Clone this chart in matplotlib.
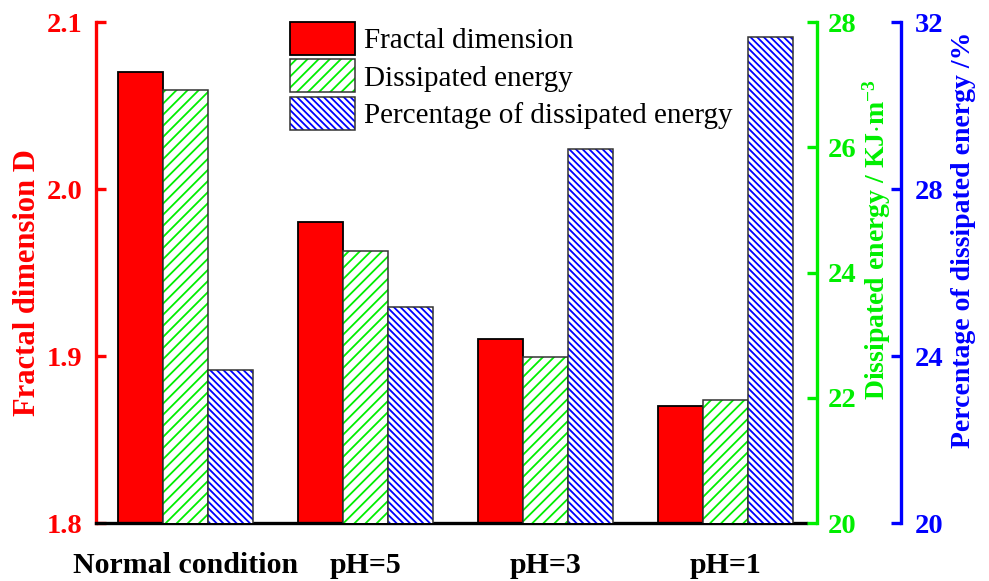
import matplotlib
matplotlib.use("Agg")
import matplotlib.pyplot as plt
import numpy as np
from matplotlib.patches import Patch
from matplotlib.legend_handler import HandlerTuple

conditions = ["Normal condition", "pH=5", "pH=3", "pH=1"]
fractal_dimension = [2.07, 1.98, 1.91, 1.87]
dissipated_energy = [26.91, 24.35, 22.65, 21.96]
energy_percentage = [23.66, 25.18, 28.97, 31.65]

RED = "#FF0000"
GREEN = "#00EE00"
BLUE = "#0000FF"

GREEN_HATCH = "///"
BLUE_HATCH = "\\\\\\\\\\"

plt.rcParams["font.family"] = ["Liberation Serif", "DejaVu Serif"]
plt.rcParams["hatch.linewidth"] = 1.3
plt.rcParams["mathtext.fontset"] = "custom"
plt.rcParams["mathtext.rm"] = "Liberation Serif:bold"
plt.rcParams["mathtext.it"] = "Liberation Serif:bold"
plt.rcParams["mathtext.bf"] = "Liberation Serif:bold"

fig = plt.figure(figsize=(9.89, 5.81), dpi=100)
ax = fig.add_axes([0.0971, 0.0998, 0.7180, 0.8623])
ax2 = ax.twinx()
ax3 = ax.twinx()

x = np.arange(len(conditions))
w = 0.25

# fractal dimension (solid red)
ax.bar(x - w, fractal_dimension, w, bottom=0, color=RED, edgecolor="black", linewidth=1.3, zorder=3)

# dissipated energy (green hatch, thin outline)
ax2.bar(x, dissipated_energy, w, color="white", edgecolor=GREEN, hatch=GREEN_HATCH, linewidth=0, zorder=2)
ax2.bar(x, dissipated_energy, w, fill=False, edgecolor="#333333", linewidth=1.1, zorder=3)

# percentage of dissipated energy (blue hatch, thin outline)
ax3.bar(x + w, energy_percentage, w, color="white", edgecolor=BLUE, hatch=BLUE_HATCH, linewidth=0, zorder=2)
ax3.bar(x + w, energy_percentage, w, fill=False, edgecolor="#333333", linewidth=1.1, zorder=3)

ax.set_xlim(-0.497, 3.447)
ax.set_ylim(1.8, 2.1)
ax2.set_ylim(20, 28)
ax3.set_ylim(20, 32)

ax.set_yticks([1.8, 1.9, 2.0, 2.1])
ax.set_yticklabels(["1.8", "1.9", "2.0", "2.1"])
ax2.set_yticks([20, 22, 24, 26, 28])
ax3.set_yticks([20, 24, 28, 32])

ax.set_xticks(x)
ax.set_xticklabels(conditions)

spine_w = 2.4
for a in (ax, ax2, ax3):
    for s in a.spines.values():
        s.set_visible(False)

ax.spines["left"].set_visible(True)
ax.spines["left"].set_color(RED)
ax.spines["left"].set_linewidth(spine_w)
ax.spines["bottom"].set_visible(True)
ax.spines["bottom"].set_color("black")
ax.spines["bottom"].set_linewidth(spine_w)
ax.spines["bottom"].set_zorder(4)

ax2.spines["right"].set_visible(True)
ax2.spines["right"].set_color(GREEN)
ax2.spines["right"].set_linewidth(spine_w)
ax2.spines["right"].set_position(("outward", 8))

ax3.spines["right"].set_visible(True)
ax3.spines["right"].set_color(BLUE)
ax3.spines["right"].set_linewidth(spine_w)
ax3.spines["right"].set_position(("outward", 68))

ax.tick_params(axis="y", direction="in", length=7, width=spine_w, colors=RED, labelsize=20.5, pad=10)
ax.tick_params(axis="x", length=0, labelsize=21.5, pad=21, colors="black")
ax2.tick_params(axis="y", direction="in", length=7, width=spine_w, colors=GREEN, labelsize=20.5, pad=7.5)
ax3.tick_params(axis="y", direction="in", length=7, width=spine_w, colors=BLUE, labelsize=20.5, pad=10)
for a in (ax, ax2, ax3):
    for lab in a.get_xticklabels() + a.get_yticklabels():
        lab.set_fontweight("bold")

ax.set_ylabel("Fractal dimension D", color=RED, fontsize=22, fontweight="bold")
ax.yaxis.set_label_coords(-0.076, 0.479)
ax2.set_ylabel(r"Dissipated energy / KJ$\cdot$m$^{-3}$", color=GREEN, fontsize=20,
               fontweight="bold")
ax2.yaxis.set_label_coords(1.076, 0.565)
ax3.set_ylabel("Percentage of dissipated energy /%", color=BLUE, fontsize=20,
               fontweight="bold")
ax3.yaxis.set_label_coords(1.204, 0.565)

# legend with green/blue hatching inside dark outlines
h_red = Patch(facecolor=RED, edgecolor="black", linewidth=1.3)
h_green = (Patch(facecolor="white", edgecolor=GREEN, hatch=GREEN_HATCH, linewidth=0),
           Patch(fill=False, edgecolor="#333333", linewidth=1.1))
h_blue = (Patch(facecolor="white", edgecolor=BLUE, hatch=BLUE_HATCH, linewidth=0),
          Patch(fill=False, edgecolor="#333333", linewidth=1.1))
leg = ax.legend([h_red, h_green, h_blue],
                ["Fractal dimension", "Dissipated energy", "Percentage of dissipated energy"],
                handler_map={tuple: HandlerTuple(ndivide=1, pad=0)},
                loc="upper left", bbox_to_anchor=(0.273, 1.0), frameon=False,
                fontsize=21, handlelength=2.23, handleheight=1.36, handletextpad=0.3,
                labelspacing=0.15, borderpad=0, borderaxespad=0)
leg.set_zorder(5)

fig.savefig("out.png", dpi=100)
